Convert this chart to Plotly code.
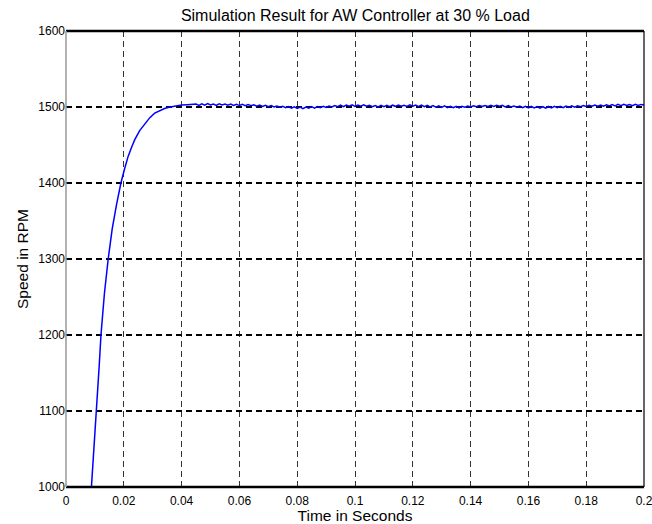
import plotly.graph_objects as go

# ---- data ----
rise_t = [0.0088, 0.0100, 0.0106, 0.0115, 0.0121, 0.0133, 0.0146, 0.0160, 0.0175, 0.0190,
          0.0203, 0.0215, 0.0227, 0.0238, 0.0255, 0.0272, 0.0290, 0.0307, 0.0325, 0.0341,
          0.0360, 0.0380, 0.0400, 0.0420, 0.0440]
rise_y = [1000, 1068, 1100, 1160, 1200, 1255, 1300, 1340, 1372, 1400,
          1419, 1435, 1447, 1457, 1469, 1478, 1486, 1492, 1495, 1498,
          1500, 1501.5, 1502.5, 1503, 1503.5]

steady_t = [0.045, 0.046, 0.047, 0.048, 0.049, 0.050, 0.051, 0.052, 0.053, 0.054,
            0.055, 0.056, 0.057, 0.058, 0.059, 0.060, 0.061, 0.062, 0.063, 0.064,
            0.065, 0.066, 0.067, 0.068, 0.069, 0.070, 0.071, 0.072, 0.073, 0.074,
            0.075, 0.076, 0.077, 0.078, 0.079, 0.080, 0.081, 0.082, 0.083, 0.084,
            0.085, 0.086, 0.087, 0.088, 0.089, 0.090, 0.091, 0.092, 0.093, 0.094,
            0.095, 0.096, 0.097, 0.098, 0.099, 0.100, 0.101, 0.102, 0.103, 0.104,
            0.105, 0.106, 0.107, 0.108, 0.109, 0.110, 0.111, 0.112, 0.113, 0.114,
            0.115, 0.116, 0.117, 0.118, 0.119, 0.120, 0.121, 0.122, 0.123, 0.124,
            0.125, 0.126, 0.127, 0.128, 0.129, 0.130, 0.131, 0.132, 0.133, 0.134,
            0.135, 0.136, 0.137, 0.138, 0.139, 0.140, 0.141, 0.142, 0.143, 0.144,
            0.145, 0.146, 0.147, 0.148, 0.149, 0.150, 0.151, 0.152, 0.153, 0.154,
            0.155, 0.156, 0.157, 0.158, 0.159, 0.160, 0.161, 0.162, 0.163, 0.164,
            0.165, 0.166, 0.167, 0.168, 0.169, 0.170, 0.171, 0.172, 0.173, 0.174,
            0.175, 0.176, 0.177, 0.178, 0.179, 0.180, 0.181, 0.182, 0.183, 0.184,
            0.185, 0.186, 0.187, 0.188, 0.189, 0.190, 0.191, 0.192, 0.193, 0.194,
            0.195, 0.196, 0.197, 0.198, 0.199, 0.200]
steady_y = [1503.8, 1502.1, 1504.2, 1502.5, 1504.4, 1502.6, 1503.9, 1502.2, 1504.1, 1502.8,
            1504.0, 1502.3, 1503.9, 1502.1, 1503.6, 1501.9, 1503.4, 1501.8, 1503.2, 1501.6,
            1502.9, 1501.1, 1502.6, 1500.7, 1502.2, 1500.5, 1501.8, 1500.0, 1501.4, 1499.8,
            1500.9, 1499.2, 1500.6, 1498.4, 1500.1, 1498.2, 1499.9, 1497.9, 1499.8, 1498.3,
            1500.4, 1498.5, 1500.7, 1499.2, 1501.0, 1499.4, 1501.3, 1500.0, 1502.0, 1500.3,
            1502.4, 1500.4, 1502.6, 1501.2, 1502.8, 1500.9, 1502.5, 1501.0, 1503.0, 1501.1,
            1502.2, 1500.5, 1501.9, 1500.1, 1502.1, 1500.3, 1502.3, 1500.4, 1502.4, 1500.9,
            1502.5, 1501.0, 1502.3, 1500.8, 1502.9, 1501.1, 1502.6, 1500.6, 1502.4, 1500.3,
            1502.1, 1500.0, 1501.8, 1499.8, 1501.5, 1499.5, 1501.4, 1499.2, 1501.0, 1499.0,
            1500.9, 1498.9, 1501.0, 1499.7, 1501.1, 1500.1, 1501.5, 1500.3, 1502.0, 1500.6,
            1502.0, 1500.7, 1502.2, 1500.6, 1502.3, 1500.9, 1502.1, 1500.2, 1502.0, 1500.1,
            1501.4, 1499.8, 1501.1, 1499.0, 1501.0, 1498.9, 1500.8, 1498.7, 1500.6, 1498.5,
            1500.4, 1498.6, 1500.7, 1498.8, 1500.8, 1499.0, 1501.0, 1499.2, 1501.3, 1499.6,
            1501.6, 1499.8, 1501.7, 1500.5, 1502.0, 1500.7, 1502.2, 1501.0, 1502.5, 1501.1,
            1502.6, 1501.2, 1503.0, 1501.4, 1503.1, 1501.5, 1503.4, 1501.7, 1503.5, 1501.9,
            1503.3, 1501.8, 1503.6, 1502.0, 1503.4, 1502.5]

x_ticks = [0, 0.02, 0.04, 0.06, 0.08, 0.1, 0.12, 0.14, 0.16, 0.18, 0.2]
x_tick_labels = ["0", "0.02", "0.04", "0.06", "0.08", "0.1", "0.12", "0.14", "0.16", "0.18", "0.2"]
y_ticks = [1000, 1100, 1200, 1300, 1400, 1500, 1600]
y_tick_labels = ["1000", "1100", "1200", "1300", "1400", "1500", "1600"]

FONT = "Liberation Sans, Arial, sans-serif"

fig = go.Figure()
fig.add_trace(go.Scatter(
    x=rise_t + steady_t, y=rise_y + steady_y,
    mode="lines", line=dict(color="#0000ff", width=1.5),
    showlegend=False, hoverinfo="skip"))

fig.update_layout(
    width=652, height=524,
    margin=dict(l=66, r=8, t=31, b=37, autoexpand=False),
    paper_bgcolor="white", plot_bgcolor="white",
    font=dict(family=FONT, size=12, color="black"),
    title=dict(text="Simulation Result for AW Controller at 30 % Load",
               x=0.5450, xanchor="center", y=0.971, yanchor="middle",
               font=dict(family=FONT, size=16, color="black")),
    xaxis=dict(range=[0, 0.2000001], tickvals=x_ticks, ticktext=x_tick_labels,
               automargin=False,
               showgrid=True, gridcolor="#333333", gridwidth=1.3, griddash="6px,4px",
               zeroline=False, showline=False, ticks="outside", ticklen=3,
               tickcolor="rgba(0,0,0,0)", ticklabeloverflow="allow",
               tickfont=dict(family=FONT, size=12, color="black"),
               title=dict(text="Time in Seconds", standoff=1,
                          font=dict(family=FONT, size=15.5, color="black"))),
    yaxis=dict(range=[1000, 1600], tickvals=y_ticks, ticktext=y_tick_labels,
               automargin=False,
               showgrid=True, gridcolor="black", gridwidth=1.5, griddash="6px,4px",
               zeroline=False, showline=False, ticks="", ticklen=0,
               tickfont=dict(family=FONT, size=12, color="black"),
               title=dict(text="Speed in RPM", standoff=5,
                          font=dict(family=FONT, size=15.5, color="black"))),
    shapes=[
        dict(type="line", xref="paper", yref="paper", x0=0, x1=1, y0=1, y1=1,
             line=dict(color="black", width=2.5)),
        dict(type="line", xref="paper", yref="paper", x0=0, x1=1, y0=0, y1=0,
             line=dict(color="black", width=2.5)),
        dict(type="line", xref="paper", yref="paper", x0=1, x1=1, y0=0, y1=1,
             line=dict(color="black", width=1.2)),
        dict(type="line", xref="paper", yref="paper", x0=0, x1=0, y0=0, y1=1,
             line=dict(color="#999999", width=1.5)),
    ],
)

fig.write_html("out.html")
